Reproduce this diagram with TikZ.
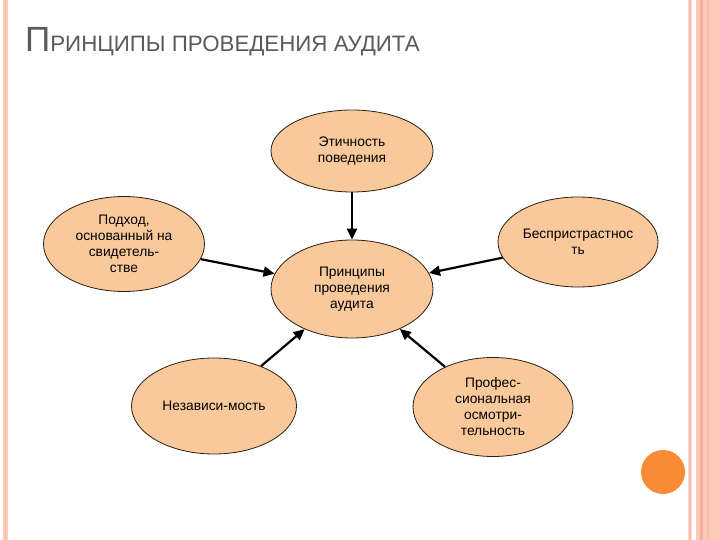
\documentclass[tikz,border=0pt]{standalone}
\usepackage{fontspec}
\setmainfont{Liberation Sans}
\usetikzlibrary{shapes.geometric,arrows.meta}
\definecolor{peach}{HTML}{FAC99B}
\definecolor{edgec}{HTML}{2B1E12}
\definecolor{band}{HTML}{FCCAB6}
\definecolor{bandlight}{HTML}{F9D6CA}
\definecolor{banddark}{HTML}{F1B199}
\definecolor{dot}{HTML}{F98B34}
\definecolor{titlec}{HTML}{5A5A5A}
\tikzset{
  ell/.style={ellipse, draw=edgec, line width=0.8pt, fill=peach, inner sep=0pt,
    align=center, font=\fontsize{13.8}{16}\selectfont},
  conn/.style={line width=2.2pt, -{Triangle[length=11pt,width=10pt]}}
}
\begin{document}
\begin{tikzpicture}[x=1pt,y=-1pt]
\useasboundingbox (0,0) rectangle (720,540);
\fill[white] (0,0) rectangle (720,540);
% left stripe
\fill[band] (3,0) rectangle (8,540);
\fill[banddark!70!band] (4.5,0) rectangle (6,540);
% right stripes
\fill[bandlight] (688,0) rectangle (692,540);
\fill[banddark!60!bandlight] (689.3,0) rectangle (690.8,540);
\fill[band] (696,0) rectangle (720,540);
\fill[banddark] (700,0) rectangle (703,540);
\fill[banddark!40!band] (707,0) rectangle (709,540);
% orange dot
\fill[dot] (663,472) circle (22);
% title
\node[anchor=base west, inner sep=0pt, text=titlec] (title) at (25,52)
  {\fontsize{35}{40}\selectfont П\fontsize{22.3}{28}\selectfont РИНЦИПЫ ПРОВЕДЕНИЯ АУДИТА};
% nodes
\node[ell, minimum width=162, minimum height=98] (c) at (352,289) {Принципы\\проведения\\аудита};
\node[ell, minimum width=162, minimum height=82] (t) at (352,151) {Этичность\\поведения};
\node[ell, minimum width=161, minimum height=95] (l) at (124,244) {Подход,\\основанный на\\свидетель-\\стве};
\node[ell, minimum width=160, minimum height=90] (r) at (578,242) {Беспристрастнос\\ть};
\node[ell, minimum width=165, minimum height=96] (bl) at (214,406) {Независи-мость};
\node[ell, minimum width=160, minimum height=99] (br) at (493,407) {Профес-\\сиональная\\осмотри-\\тельность};
% connectors
\draw[conn] (t) -- (c);
\draw[conn] (l) -- (c);
\draw[conn] (r) -- (c);
\draw[conn] (bl) -- (c);
\draw[conn] (br) -- (c);
\end{tikzpicture}
\end{document}
